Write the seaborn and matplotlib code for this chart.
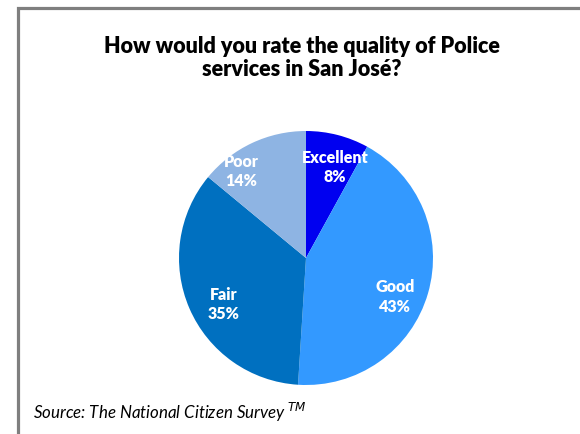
import matplotlib
matplotlib.use("Agg")
import matplotlib.pyplot as plt
import seaborn as sns
from matplotlib.patches import Rectangle

categories = ["Excellent", "Good", "Fair", "Poor"]
values = [8, 43, 35, 14]
colors = ["#0000F0", "#3399FF", "#0070C0", "#8EB4E3"]
title = "How would you rate the quality of Police\nservices in San José?"
source = "Source: The National Citizen Survey $^{TM}$"

# label placement inside the pie (axes data units, radius = 1)
label_xy = [(0.23, 0.72), (0.70, -0.30), (-0.65, -0.36), (-0.51, 0.69)]

sns.set_theme(style="white")
plt.rcParams['font.family'] = ['Lato', 'DejaVu Sans']

W, H = 580, 435
fig = plt.figure(figsize=(W / 100, H / 100), dpi=100)
fig.patch.set_facecolor("white")

# frame
fig.add_artist(Rectangle((17.5 / W, -0.1), 1.2, (H - 8.5) / H + 0.1,
                         transform=fig.transFigure, fill=False,
                         edgecolor="#7F7F7F", linewidth=2.3))

cx, cy, r = 306, 259, 127
ax = fig.add_axes([(cx - r) / W, (H - cy - r) / H, 2 * r / W, 2 * r / H])

def fmt(pct):
    idx = min(range(len(values)), key=lambda i: abs(values[i] - pct))
    return f"{categories[idx]}\n{values[idx]}%"

wedges, texts, autotexts = ax.pie(values, colors=colors, startangle=90,
                                  counterclock=False, autopct=fmt,
                                  pctdistance=0.76, radius=1,
                                  wedgeprops=dict(linewidth=0),
                                  textprops=dict(color="white", fontsize=11.5,
                                                 fontweight="heavy",
                                                 linespacing=1.25))
for t, xy in zip(autotexts, label_xy):
    t.set_position(xy)

ax.set_xlim(-1, 1)
ax.set_ylim(-1, 1)
ax.set_aspect("equal")
ax.axis("off")

fig.text(302 / W, 1 - 58 / H, title, ha="center", va="center",
         fontsize=15.5, fontweight="heavy", linespacing=1.08, color="black")
fig.text(33 / W, 1 - 412 / H, source, ha="left", va="center",
         fontsize=12.2, style="italic", color="black")

fig.savefig("out.png", dpi=100)
